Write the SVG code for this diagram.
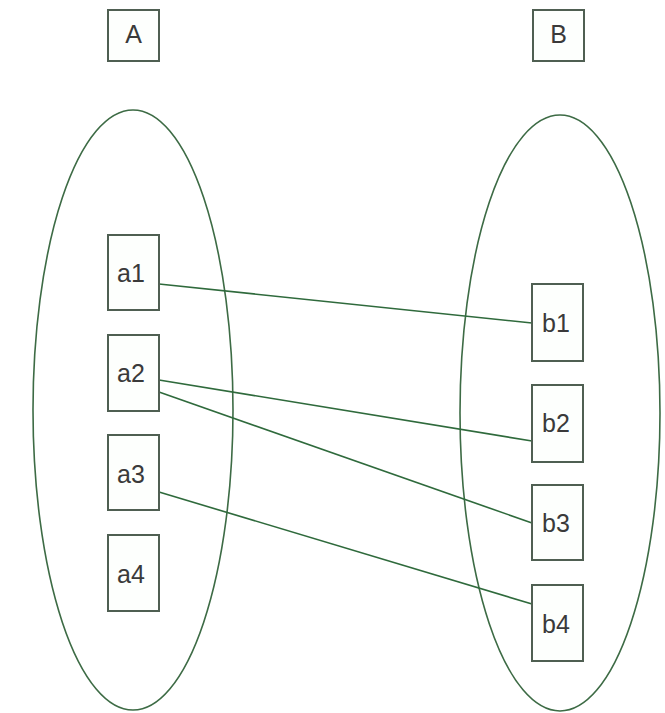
<svg xmlns="http://www.w3.org/2000/svg" width="665" height="713" viewBox="0 0 665 713">
<style>
.ell{fill:none;stroke:#3d6b45;stroke-width:1.6}
.box{fill:#fdfffd;stroke:#4f5f52;stroke-width:2}
.lbl{font-family:"Liberation Sans",Arial,sans-serif;font-size:25px;fill:#3a3a3a;text-anchor:middle}
.conn{fill:none;stroke:#2f6a3c;stroke-width:1.6}
</style>
<rect width="665" height="713" fill="#ffffff"/>
<g id="setA">
<ellipse class="ell" cx="133" cy="410" rx="100" ry="300"/>
</g>
<g id="setB">
<ellipse class="ell" cx="560" cy="413" rx="100" ry="298"/>
</g>
<g id="connectors">
<line class="conn" x1="159" y1="284" x2="532" y2="323"/>
<line class="conn" x1="159" y1="380" x2="532" y2="441"/>
<line class="conn" x1="159" y1="392" x2="532" y2="523"/>
<line class="conn" x1="159" y1="492" x2="532" y2="604"/>
</g>
<g id="A"><rect class="box" x="108" y="10" width="51" height="51"/><text class="lbl" x="133.5" y="43">A</text></g>
<g id="B"><rect class="box" x="533" y="10" width="51" height="51"/><text class="lbl" x="558.5" y="43">B</text></g>
<g id="a1"><rect class="box" x="108" y="235" width="51" height="75"/><text class="lbl" x="131" y="282">a1</text></g>
<g id="a2"><rect class="box" x="108" y="335" width="51" height="76"/><text class="lbl" x="131" y="382">a2</text></g>
<g id="a3"><rect class="box" x="108" y="435" width="51" height="75"/><text class="lbl" x="131" y="483">a3</text></g>
<g id="a4"><rect class="box" x="108" y="535" width="51" height="76"/><text class="lbl" x="131" y="583">a4</text></g>
<g id="b1"><rect class="box" x="532" y="284" width="51" height="77"/><text class="lbl" x="556" y="332">b1</text></g>
<g id="b2"><rect class="box" x="532" y="385" width="51" height="77"/><text class="lbl" x="556" y="432">b2</text></g>
<g id="b3"><rect class="box" x="532" y="485" width="51" height="75"/><text class="lbl" x="556" y="532">b3</text></g>
<g id="b4"><rect class="box" x="532" y="585" width="51" height="76"/><text class="lbl" x="556" y="633">b4</text></g>
</svg>
